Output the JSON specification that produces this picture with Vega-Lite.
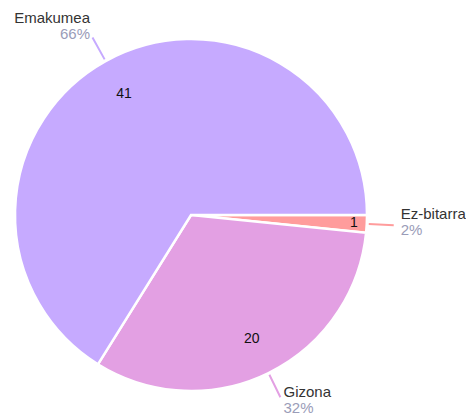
{
  "$schema": "https://vega.github.io/schema/vega-lite/v6.json",
  "width": 382,
  "height": 430,
  "padding": 0,
  "autosize": {"type": "pad"},
  "background": "white",
  "config": {"view": {"stroke": null}, "text": {"font": "Liberation Sans"}},
  "data": {"values": [
    {"name": "Ez-bitarra", "value": 1, "rank": 1},
    {"name": "Gizona", "value": 20, "rank": 2},
    {"name": "Emakumea", "value": 41, "rank": 3}
  ]},
  "transform": [
    {"stack": "value", "groupby": [], "sort": [{"field": "rank", "order": "ascending"}], "as": ["v0", "v1"]},
    {"calculate": "(datum.v0 + datum.v1) / 2", "as": "mid"},
    {"joinaggregate": [{"op": "sum", "field": "value", "as": "total"}]},
    {"calculate": "datum.value / datum.total", "as": "share"}
  ],
  "layer": [
    {
      "mark": {"type": "arc", "radius": 176, "stroke": "white", "strokeWidth": 2.5},
      "encoding": {
        "theta": {"field": "v1", "type": "quantitative", "stack": null, "scale": {"zero": true, "nice": false, "range": [1.5707963, 7.8539816]}},
        "theta2": {"field": "v0"},
        "color": {"field": "name", "type": "nominal", "legend": null,
          "scale": {"domain": ["Emakumea", "Gizona", "Ez-bitarra"], "range": ["#c6aaff", "#e3a0e3", "#ff9c9c"]}}
      }
    },
    {
      "mark": {"type": "arc", "radius": 178, "radius2": 203, "filled": false, "strokeWidth": 2},
      "encoding": {
        "theta": {"field": "mid", "type": "quantitative", "stack": null},
        "theta2": {"field": "mid"},
        "stroke": {"field": "name", "type": "nominal", "legend": null,
          "scale": {"domain": ["Emakumea", "Gizona", "Ez-bitarra"], "range": ["#c6aaff", "#e3a0e3", "#ff9c9c"]}}
      }
    },
    {
      "mark": {"type": "text", "radius": 138, "fontSize": 14, "color": "#111111"},
      "encoding": {
        "theta": {"field": "mid", "type": "quantitative", "stack": null},
        "text": {"condition": {"test": "datum.value < 5", "value": ""}, "field": "value", "type": "quantitative"}
      }
    },
    {
      "mark": {"type": "text", "radius": 163, "fontSize": 14, "color": "#111111"},
      "encoding": {
        "theta": {"field": "mid", "type": "quantitative", "stack": null},
        "text": {"condition": {"test": "datum.value >= 5", "value": ""}, "field": "value", "type": "quantitative"}
      }
    },
    {
      "mark": {"type": "text", "radius": 208, "fontSize": 15, "color": "#333333", "align": "right", "baseline": "alphabetic", "dy": -10},
      "encoding": {
        "theta": {"field": "mid", "type": "quantitative", "stack": null},
        "text": {"condition": {"test": "datum.name != 'Emakumea'", "value": ""}, "field": "name", "type": "nominal"}
      }
    },
    {
      "mark": {"type": "text", "radius": 208, "fontSize": 15, "color": "#9a9cb8", "align": "right", "baseline": "alphabetic", "dy": 6},
      "encoding": {
        "theta": {"field": "mid", "type": "quantitative", "stack": null},
        "text": {"condition": {"test": "datum.name != 'Emakumea'", "value": ""}, "field": "share", "type": "quantitative", "format": ".0%"}
      }
    },
    {
      "mark": {"type": "text", "radius": 210, "fontSize": 15, "color": "#333333", "align": "left", "baseline": "alphabetic", "dy": -7},
      "encoding": {
        "theta": {"field": "mid", "type": "quantitative", "stack": null},
        "text": {"condition": {"test": "datum.name == 'Emakumea'", "value": ""}, "field": "name", "type": "nominal"}
      }
    },
    {
      "mark": {"type": "text", "radius": 210, "fontSize": 15, "color": "#9a9cb8", "align": "left", "baseline": "alphabetic", "dy": 9},
      "encoding": {
        "theta": {"field": "mid", "type": "quantitative", "stack": null},
        "text": {"condition": {"test": "datum.name == 'Emakumea'", "value": ""}, "field": "share", "type": "quantitative", "format": ".0%"}
      }
    }
  ]
}
